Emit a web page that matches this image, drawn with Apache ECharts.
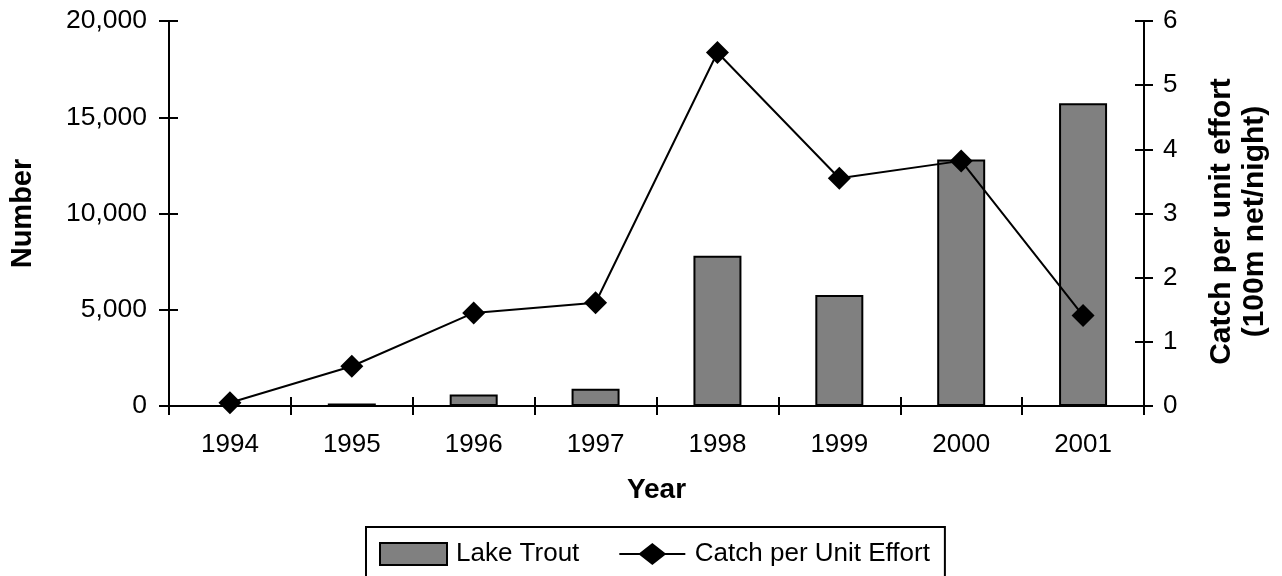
<!DOCTYPE html>
<html>
<head>
<meta charset="utf-8">
<script src="https://cdn.jsdelivr.net/npm/echarts@6/dist/echarts.min.js"></script>
<style>
    html, body { margin: 0; padding: 0; background: #fff; }
    #chart-container { width: 1282px; height: 576px; }
</style>
</head>
<body>
<div id="chart-container"></div>
<script>
var years = ["1994", "1995", "1996", "1997", "1998", "1999", "2000", "2001"];
var lakeTrout = [0, 130, 600, 890, 7800, 5770, 12800, 15730];
var cpue = [0.05, 0.62, 1.45, 1.61, 5.51, 3.55, 3.82, 1.41];

var font = "Liberation Sans";
var chartDom = document.getElementById("chart-container");
var myChart = echarts.init(chartDom);

// ticks cross the axis lines, so each axis gets a twin that only draws inside ticks
function tickOnly(pos, min, max, interval) {
    return {
        type: "value",
        position: pos,
        min: min,
        max: max,
        interval: interval,
        axisLine: { show: false },
        axisLabel: { show: false },
        splitLine: { show: false },
        axisTick: { show: true, inside: true, length: 9, lineStyle: { color: "#000", width: 2 } },
    };
}

// legend icon for the line series: a thin bar with a diamond on it
var lineIcon = "path://M0,10H66V12H0Z M33,0L47,11L33,22L19,11Z";

var option = {
    backgroundColor: "#fff",
    animation: false,
    textStyle: { fontFamily: font },
    grid: { left: 168, right: 138, top: 21, bottom: 170 },
    legend: {
        left: 366,
        top: 527,
        padding: [14, 15, 14, 13],
        borderColor: "#000",
        borderWidth: 2,
        itemWidth: 67,
        itemHeight: 22,
        itemGap: 40,
        textStyle: { fontFamily: font, fontSize: 26, color: "#000", padding: [0, 0, 0, 4] },
        data: [
            { name: "Lake Trout", icon: "rect" },
            { name: "Catch per Unit Effort", icon: lineIcon },
        ],
    },
    xAxis: [
        {
            type: "category",
            data: years,
            boundaryGap: true,
            name: "Year",
            nameLocation: "middle",
            nameGap: 70,
            nameTextStyle: { fontFamily: font, fontSize: 28, fontWeight: "bold", color: "#000" },
            axisLine: { lineStyle: { color: "#000", width: 2 } },
            axisTick: { show: true, interval: 0, length: 9, lineStyle: { color: "#000", width: 2 } },
            axisLabel: { fontFamily: font, fontSize: 26, color: "#000", margin: 26 },
            splitLine: { show: false },
        },
        {
            type: "category",
            data: years,
            position: "bottom",
            boundaryGap: true,
            axisLine: { show: false },
            axisLabel: { show: false },
            axisTick: { show: true, inside: true, interval: 0, length: 9, lineStyle: { color: "#000", width: 2 } },
        },
    ],
    yAxis: [
        {
            type: "value",
            position: "left",
            min: 0,
            max: 20000,
            interval: 5000,
            name: "Number",
            nameLocation: "middle",
            nameGap: 132,
            nameTextStyle: { fontFamily: font, fontSize: 29, fontWeight: "bold", color: "#000" },
            axisLine: { show: true, lineStyle: { color: "#000", width: 2 } },
            axisTick: { show: true, length: 10, lineStyle: { color: "#000", width: 2 } },
            axisLabel: {
                fontFamily: font,
                fontSize: 26.5,
                color: "#000",
                margin: 22,
                formatter: function (v) {
                    return v.toString().replace(/\B(?=(\d{3})+(?!\d))/g, ",");
                },
            },
            splitLine: { show: false },
        },
        {
            type: "value",
            position: "right",
            min: 0,
            max: 6,
            interval: 1,
            name: "Catch per unit effort\n(100m net/night)",
            nameLocation: "middle",
            nameGap: 61,
            nameRotate: 90,
            nameTextStyle: {
                fontFamily: font,
                fontSize: 30,
                fontWeight: "bold",
                color: "#000",
                lineHeight: 33,
                align: "center",
                padding: [0, 16, 0, 0],
            },
            axisLine: { show: true, lineStyle: { color: "#000", width: 2 } },
            axisTick: { show: true, length: 9, lineStyle: { color: "#000", width: 2 } },
            axisLabel: { fontFamily: font, fontSize: 26, color: "#000", margin: 19 },
            splitLine: { show: false },
        },
        tickOnly("left", 0, 20000, 5000),
        tickOnly("right", 0, 6, 1),
    ],
    series: [
        {
            name: "Lake Trout",
            type: "bar",
            xAxisIndex: 0,
            yAxisIndex: 0,
            barWidth: 48,
            itemStyle: { color: "#808080", borderColor: "#000", borderWidth: 2 },
            data: lakeTrout,
        },
        {
            name: "Catch per Unit Effort",
            type: "line",
            xAxisIndex: 0,
            yAxisIndex: 1,
            symbol: "diamond",
            symbolSize: 23,
            lineStyle: { color: "#000", width: 2 },
            itemStyle: { color: "#000" },
            data: cpue,
            z: 5,
        },
    ],
};
myChart.setOption(option);
</script>
</body>
</html>
